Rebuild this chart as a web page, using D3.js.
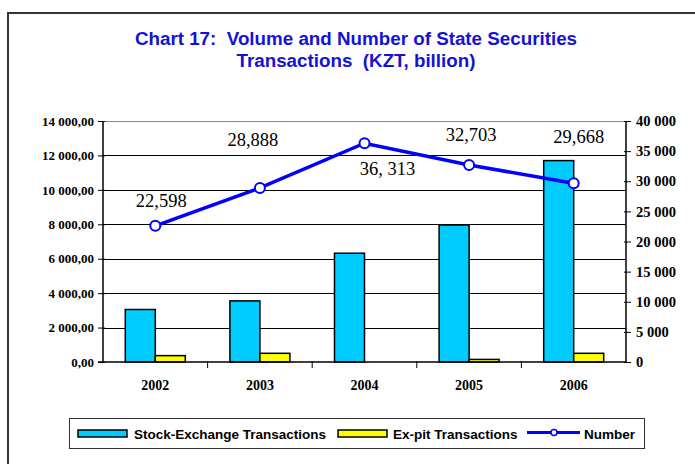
<!DOCTYPE html>
<html>
<head>
<meta charset="utf-8">
<script src="https://cdn.jsdelivr.net/npm/d3@7"></script>
<style>
  body { margin: 0; background: #fff; }
  svg text { font-family: "Liberation Serif", "Times New Roman", serif; white-space: pre; }
</style>
</head>
<body>
<div id="chart"></div>
<script>
// ---------- DATA ----------
var years = ['2002', '2003', '2004', '2005', '2006'];
var stockExchange = [3050, 3550, 6320, 7960, 11700];
var exPit = [370, 505, 0, 150, 505];
var numberOfDeals = [22598, 28888, 36313, 32703, 29668];
var numberLabels = ['22,598', '28,888', '36, 313', '32,703', '29,668'];
var leftTicks = [0, 2000, 4000, 6000, 8000, 10000, 12000, 14000];
var rightTicks = [0, 5000, 10000, 15000, 20000, 25000, 30000, 35000, 40000];

// ---------- PAGE ----------
var W = 695, H = 464;
var plotL = 103, plotR = 626, plotT = 121, plotB = 362;

var svg = d3.select('#chart').append('svg')
    .attr('width', W)
    .attr('height', H);

// outer frame (runs off the page at right and bottom)
svg.append('path')
    .attr('d', 'M8,' + (H + 5) + ' L8,13 L' + (W + 5) + ',13')
    .attr('fill', 'none')
    .attr('stroke', '#333')
    .attr('stroke-width', 2);

// title
var title = svg.append('text')
    .attr('text-anchor', 'middle')
    .style('font-family', '"Liberation Sans", Arial, sans-serif')
    .style('font-weight', 'bold')
    .style('font-size', '18.8px')
    .attr('fill', '#1212d8');
title.append('tspan').attr('x', 356).attr('y', 45).text('Chart 17:  Volume and Number of State Securities');
title.append('tspan').attr('x', 356).attr('y', 67).text('Transactions  (KZT, billion)');

var x = d3.scaleBand().domain(years).range([plotL, plotR]);
var yL = d3.scaleLinear().domain([0, 14000]).range([plotB, plotT]);
var yR = d3.scaleLinear().domain([0, 40000]).range([plotB, plotT]);

var fmtLeft = function(d) {
    return d3.format(',')(d).replace(/,/g, ' ') + ',00';
};
var fmtRight = function(d) {
    return d3.format(',')(d).replace(/,/g, ' ');
};

// gridlines
svg.append('g').selectAll('line')
    .data(leftTicks.filter(function(d) { return d > 0 && d < 14000; }))
    .enter().append('line')
    .attr('x1', plotL).attr('x2', plotR)
    .attr('y1', function(d) { return Math.round(yL(d)) + 0.5; })
    .attr('y2', function(d) { return Math.round(yL(d)) + 0.5; })
    .attr('stroke', '#000')
    .attr('stroke-width', 1);

// top border of plot
svg.append('line')
    .attr('x1', plotL).attr('x2', plotR)
    .attr('y1', plotT + 0.5).attr('y2', plotT + 0.5)
    .attr('stroke', '#888');

// bars
var bw = 30;
svg.append('g').selectAll('rect')
    .data(stockExchange)
    .enter().append('rect')
    .attr('x', function(d, i) { return x(years[i]) + x.bandwidth() / 2 - bw; })
    .attr('y', function(d) { return yL(d); })
    .attr('width', bw)
    .attr('height', function(d) { return plotB - yL(d); })
    .attr('fill', '#00ccff')
    .attr('stroke', '#000')
    .attr('stroke-width', 1.5);

svg.append('g').selectAll('rect')
    .data(exPit)
    .enter().append('rect')
    .attr('x', function(d, i) { return x(years[i]) + x.bandwidth() / 2; })
    .attr('y', function(d) { return yL(d); })
    .attr('width', bw)
    .attr('height', function(d) { return plotB - yL(d); })
    .attr('fill', '#ffff00')
    .attr('stroke', '#000')
    .attr('stroke-width', function(d) { return d > 0 ? 1.5 : 0; });

// axes
var axL = svg.append('g')
    .attr('transform', 'translate(' + plotL + ',0)')
    .call(d3.axisLeft(yL).tickValues(leftTicks).tickFormat(fmtLeft).tickSize(5).tickPadding(4));
var axR = svg.append('g')
    .attr('transform', 'translate(' + plotR + ',0)')
    .call(d3.axisRight(yR).tickValues(rightTicks).tickFormat(fmtRight).tickSize(5).tickPadding(5));
var axB = svg.append('g')
    .attr('transform', 'translate(0,' + plotB + ')')
    .call(d3.axisBottom(x).tickSize(0).tickPadding(18));

[axL, axR, axB].forEach(function(a) {
    a.select('.domain').attr('stroke', '#000').attr('stroke-width', 1.5);
    a.selectAll('text')
        .attr('fill', '#000')
        .style('font-family', '"Liberation Serif", "Times New Roman", serif')
        .style('font-weight', 'bold')
        .style('font-size', '13px');
});
axL.select('.domain').attr('d', 'M0,' + plotT + 'V' + plotB);
axR.select('.domain').attr('d', 'M0,' + plotT + 'V' + plotB);
axB.select('.domain').attr('d', 'M' + (plotL - 5) + ',0H' + plotR);
// ticks crossing the vertical axes
axL.selectAll('.tick line').attr('x1', 2).attr('x2', -5);
axR.selectAll('.tick line').attr('x1', -2).attr('x2', 5);
axR.selectAll('text').style('font-size', '14.5px');
axB.selectAll('text').style('font-size', '14px');

// category boundary ticks under the x axis
svg.append('g').selectAll('line')
    .data(years.slice(1))
    .enter().append('line')
    .attr('x1', function(d) { return x(d); })
    .attr('x2', function(d) { return x(d); })
    .attr('y1', plotB - 1)
    .attr('y2', plotB + 6)
    .attr('stroke', '#000');

// number line
var line = d3.line()
    .x(function(d, i) { return x(years[i]) + x.bandwidth() / 2; })
    .y(function(d) { return yR(d); });

svg.append('path')
    .datum(numberOfDeals)
    .attr('d', line)
    .attr('fill', 'none')
    .attr('stroke', '#0000ff')
    .attr('stroke-width', 3.5);

svg.append('g').selectAll('circle')
    .data(numberOfDeals)
    .enter().append('circle')
    .attr('cx', function(d, i) { return x(years[i]) + x.bandwidth() / 2; })
    .attr('cy', function(d) { return yR(d); })
    .attr('r', 5)
    .attr('fill', '#fff')
    .attr('stroke', '#0000ff')
    .attr('stroke-width', 2);

// value labels (offsets relative to the point)
var labelDx = [6, -7, 23, 2, 5];
var labelDy = [-19, -42, 32, -24, -40];
svg.append('g').selectAll('text')
    .data(numberOfDeals)
    .enter().append('text')
    .attr('x', function(d, i) { return x(years[i]) + x.bandwidth() / 2 + labelDx[i]; })
    .attr('y', function(d, i) { return yR(d) + labelDy[i]; })
    .attr('text-anchor', 'middle')
    .style('font-size', '18.5px')
    .attr('fill', '#000')
    .text(function(d, i) { return numberLabels[i]; });

// legend
var lg = svg.append('g');
lg.append('rect')
    .attr('x', 69.5).attr('y', 418.5)
    .attr('width', 575).attr('height', 30)
    .attr('fill', '#fff')
    .attr('stroke', '#333');

var legendFont = function(sel) {
    sel.style('font-family', '"Liberation Sans", Arial, sans-serif')
        .style('font-weight', 'bold')
        .style('font-size', '13.5px')
        .attr('fill', '#000');
};

lg.append('rect').attr('x', 78).attr('y', 430).attr('width', 49).attr('height', 7)
    .attr('fill', '#00ccff').attr('stroke', '#000').attr('stroke-width', 1.5);
lg.append('text').attr('x', 134).attr('y', 439).text('Stock-Exchange Transactions').call(legendFont);

lg.append('rect').attr('x', 338).attr('y', 430).attr('width', 49).attr('height', 7)
    .attr('fill', '#ffff00').attr('stroke', '#000').attr('stroke-width', 1.5);
lg.append('text').attr('x', 393).attr('y', 439).text('Ex-pit Transactions').call(legendFont);

lg.append('line').attr('x1', 527).attr('x2', 580).attr('y1', 432.5).attr('y2', 432.5)
    .attr('stroke', '#0000ff').attr('stroke-width', 3);
lg.append('circle').attr('cx', 554).attr('cy', 432.5).attr('r', 3)
    .attr('fill', '#fff').attr('stroke', '#0000ff').attr('stroke-width', 1.5);
lg.append('text').attr('x', 584).attr('y', 439).text('Number').call(legendFont);
</script>
</body>
</html>
